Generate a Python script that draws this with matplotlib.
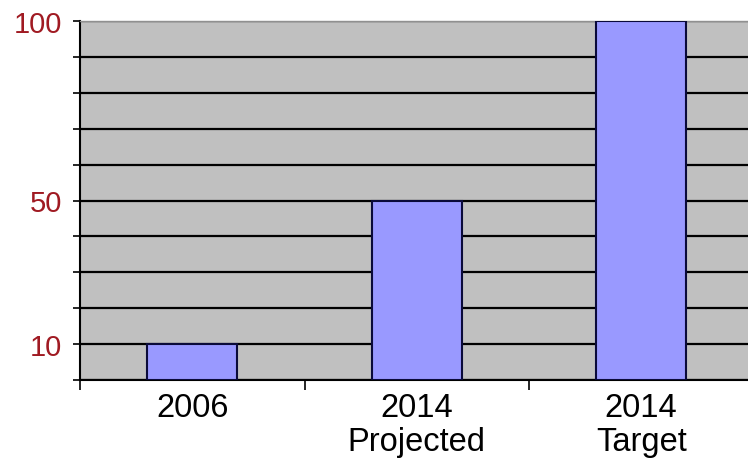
import matplotlib
matplotlib.use("Agg")
import matplotlib.pyplot as plt

categories = ["2006", "2014\nProjected", "2014\nTarget"]
values = [10, 50, 100]
ytick_values = [0, 10, 20, 30, 40, 50, 60, 70, 80, 90, 100]
ytick_labels = ["", "10", "", "", "", "50", "", "", "", "", "100"]

plt.rcParams['font.family'] = ['Liberation Sans', 'DejaVu Sans']

fig = plt.figure(figsize=(7.48, 4.60), dpi=100)
ax = fig.add_axes([80/748, 79/460, 668/748, 359/460])
ax.set_facecolor("#C0C0C0")

x = list(range(len(categories)))
ax.bar(x, values, width=0.40, color="#9999FF", edgecolor="#0A0A3A", linewidth=1.5, zorder=3)

ax.set_xlim(-0.5, -0.5 + 668/224.5)
ax.set_ylim(0, 100)

ax.set_yticks(ytick_values)
ax.set_yticklabels(ytick_labels, fontsize=21, color="#A01A22")
ax.yaxis.grid(True, color="black", linewidth=1.6, zorder=1)
ax.set_axisbelow(True)
ax.tick_params(axis='y', direction='out', length=5, width=1.2, color='black', pad=8)

# category boundary ticks on x
ax.set_xticks([-0.5, 0.5, 1.5], minor=False)
ax.set_xticklabels([])
ax.tick_params(axis='x', which='major', direction='out', length=7, width=1.2, color='black')
ax.set_xticks(x, minor=True)
ax.set_xticklabels(categories, minor=True, fontsize=23.5, color="black", linespacing=1.1)
ax.tick_params(axis='x', which='minor', length=0, pad=9)

ax.spines['left'].set_color('black')
ax.spines['left'].set_linewidth(1.5)
ax.spines['bottom'].set_color('black')
ax.spines['bottom'].set_linewidth(1.5)
ax.spines['top'].set_color('#909090')
ax.spines['top'].set_linewidth(1.0)
ax.spines['right'].set_visible(False)

fig.savefig("out.png", dpi=100, facecolor="white")
